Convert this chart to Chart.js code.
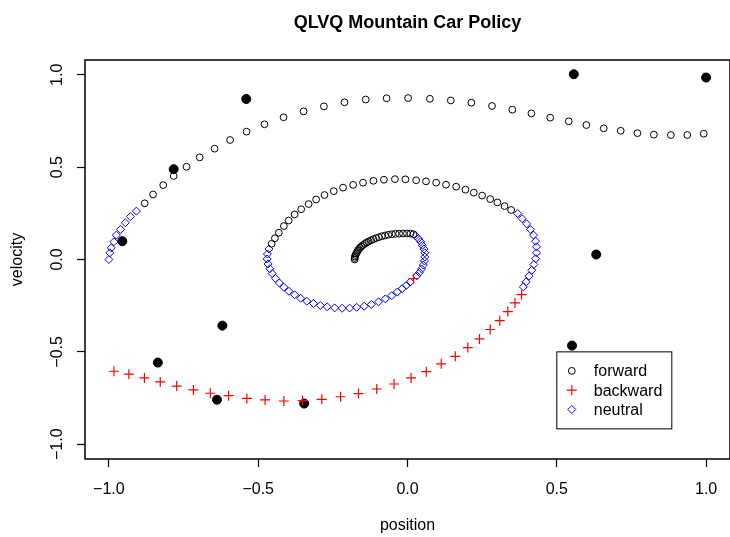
<!DOCTYPE html>
<html>
<head>
<meta charset="utf-8">
<script src="https://cdn.jsdelivr.net/npm/chart.js@4.4.0/dist/chart.umd.min.js"></script>
<style>
  html, body { margin: 0; padding: 0; background: #fff; }
</style>
</head>
<body>
<canvas id="chart" width="730" height="537"></canvas>
<script>
// trajectory points (position, velocity)
const forwardPos = [
  -0.177, -0.177, -0.176, -0.174, -0.172, -0.169, -0.166, -0.163, -0.159, -0.154, -0.149, -0.143, -0.137, -0.130,
  -0.122, -0.114, -0.105, -0.096, -0.086, -0.075, -0.064, -0.052, -0.040, -0.028, -0.015, -0.002, 0.010, 0.020,
  -0.455, -0.444, -0.431, -0.414, -0.398, -0.378, -0.356, -0.331, -0.306, -0.278, -0.247, -0.216, -0.182, -0.149,
  -0.114, -0.079, -0.042, -0.007, 0.029, 0.062, 0.096, 0.129, 0.163, 0.194, 0.222, 0.250, 0.277, 0.301, 0.325, 0.347,
  -0.880, -0.852, -0.818, -0.783, -0.740, -0.696, -0.646, -0.594, -0.539, -0.479, -0.415, -0.348, -0.280, -0.211,
  -0.140, -0.070, 0.002, 0.075, 0.145, 0.214, 0.283, 0.351, 0.415, 0.478, 0.540, 0.599, 0.657, 0.714, 0.770, 0.825,
  0.882, 0.937, 0.992
];
const forwardVel = [
  0.000, 0.008, 0.016, 0.024, 0.032, 0.040, 0.048, 0.056, 0.064, 0.071, 0.078, 0.085, 0.092, 0.098,
  0.104, 0.110, 0.116, 0.121, 0.126, 0.130, 0.134, 0.137, 0.139, 0.140, 0.141, 0.141, 0.140, 0.137,
  0.085, 0.115, 0.145, 0.181, 0.211, 0.244, 0.272, 0.300, 0.325, 0.349, 0.370, 0.389, 0.404, 0.416,
  0.426, 0.432, 0.435, 0.434, 0.429, 0.423, 0.416, 0.405, 0.394, 0.378, 0.362, 0.346, 0.327, 0.309, 0.289, 0.268,
  0.304, 0.352, 0.403, 0.452, 0.502, 0.553, 0.600, 0.647, 0.692, 0.732, 0.770, 0.802, 0.829, 0.851,
  0.866, 0.873, 0.874, 0.870, 0.861, 0.849, 0.831, 0.811, 0.791, 0.768, 0.748, 0.728, 0.710, 0.697, 0.684, 0.676,
  0.674, 0.674, 0.681
];
const backwardPos = [
  0.020,
  0.382, 0.360, 0.336, 0.309, 0.277, 0.241, 0.202, 0.160, 0.113, 0.063, 0.012, -0.045, -0.103, -0.164,
  -0.224, -0.287, -0.351, -0.414, -0.477, -0.538, -0.599, -0.660, -0.717, -0.773, -0.828, -0.881, -0.933, -0.983
];
const backwardVel = [
  -0.104,
  -0.190, -0.235, -0.282, -0.331, -0.379, -0.430, -0.477, -0.524, -0.565, -0.607, -0.641, -0.674, -0.701, -0.726,
  -0.743, -0.757, -0.764, -0.766, -0.760, -0.752, -0.737, -0.724, -0.706, -0.685, -0.663, -0.641, -0.621, -0.605
];
const neutralPos = [
  0.027, 0.036, 0.044, 0.050, 0.055, 0.058, 0.058, 0.057, 0.053, 0.047, 0.040, 0.031,
  0.009, -0.004, -0.018, -0.034, -0.053, -0.074, -0.097, -0.121, -0.145, -0.170, -0.194, -0.219, -0.244, -0.269,
  -0.292, -0.315, -0.337, -0.358, -0.378, -0.397, -0.414, -0.429, -0.442, -0.453, -0.461, -0.467, -0.470, -0.469, -0.464,
  0.369, 0.384, 0.399, 0.412, 0.422, 0.429, 0.432, 0.432, 0.429, 0.423, 0.416, 0.407, 0.397, 0.388,
  -1.000, -0.997, -0.992, -0.983, -0.975, -0.961, -0.945, -0.928, -0.908
];
const neutralVel = [
  0.128, 0.113, 0.096, 0.077, 0.057, 0.036, 0.014, -0.008, -0.030, -0.051, -0.070, -0.088,
  -0.122, -0.140, -0.158, -0.176, -0.196, -0.213, -0.229, -0.243, -0.253, -0.259, -0.263, -0.264, -0.262, -0.256,
  -0.249, -0.238, -0.226, -0.210, -0.191, -0.172, -0.150, -0.127, -0.102, -0.076, -0.050, -0.024, 0.003, 0.030, 0.057,
  0.249, 0.221, 0.193, 0.163, 0.132, 0.099, 0.069, 0.036, 0.004, -0.027, -0.058, -0.090, -0.121, -0.148,
  0.000, 0.036, 0.063, 0.096, 0.132, 0.163, 0.199, 0.232, 0.262
];
// LVQ prototypes (filled dots)
const protoPos = [0.557, 1.000, -0.540, -0.783, -0.955, -0.620, -0.836, -0.638, -0.346, 0.632, 0.551];
const protoVel = [1.003, 0.985, 0.869, 0.489, 0.099, -0.358, -0.558, -0.759, -0.780, 0.027, -0.466];

const tickValues = [-1, -0.5, 0, 0.5, 1];
const tickText = ['\u22121.0', '\u22120.5', '0.0', '0.5', '1.0'];
const legendNames = ['forward', 'backward', 'neutral'];

const FONT = '"Liberation Sans", Arial, Helvetica, sans-serif';

function pts(xs, ys) {
    return xs.map((x, i) => ({ x: x, y: ys[i] }));
}

// R style frame, title, rotated y labels and legend
const rDecor = {
    id: 'rDecor',
    afterDraw(chart) {
        const ctx = chart.ctx;
        const a = chart.chartArea;
        const xs = chart.scales.x, ys = chart.scales.y;
        ctx.save();
        ctx.strokeStyle = '#000';
        ctx.lineWidth = 1.5;
        ctx.strokeRect(a.left, a.top, a.right - a.left, a.bottom - a.top);

        ctx.fillStyle = '#000';
        ctx.font = 'bold 18px ' + FONT;
        ctx.textAlign = 'center';
        ctx.textBaseline = 'alphabetic';
        ctx.fillText('QLVQ Mountain Car Policy', (a.left + a.right) / 2, 28);

        ctx.font = '16px ' + FONT;
        tickValues.forEach((v, i) => {
            ctx.save();
            ctx.translate(62, ys.getPixelForValue(v));
            ctx.rotate(-Math.PI / 2);
            ctx.fillText(tickText[i], 0, 0);
            ctx.restore();
        });

        // legend, top-left corner at (0.5, -0.5)
        const lx = xs.getPixelForValue(0.5), ly = ys.getPixelForValue(-0.5);
        ctx.lineWidth = 1;
        ctx.strokeRect(lx, ly, 115, 77);
        ctx.textAlign = 'left';
        ctx.textBaseline = 'middle';
        legendNames.forEach((name, i) => {
            const ds = chart.data.datasets[i];
            const y = ly + 19 + i * 19.3;
            ctx.strokeStyle = ds.borderColor;
            ctx.fillStyle = 'rgba(0,0,0,0)';
            ctx.lineWidth = ds.borderWidth;
            Chart.helpers.drawPoint(ctx, {
                pointStyle: ds.pointStyle, radius: ds.pointRadius, rotation: 0, borderWidth: ds.borderWidth
            }, lx + 15, y);
            ctx.fillStyle = '#000';
            ctx.fillText(name, lx + 37, y + 1);
        });
        ctx.restore();
    }
};

function axisOpts(horizontal, label) {
    return {
        type: 'linear',
        min: -1.08,
        max: 1.08,
        afterBuildTicks: s => { s.ticks = tickValues.map(v => ({ value: v })); },
        afterFit: s => {
            if (horizontal) s.height = 78; else s.width = 85;
            // no extra room for edge labels, the frame runs to the canvas edge
            s.paddingLeft = 0; s.paddingRight = 0;
            s.paddingTop = 0; s.paddingBottom = 0;
        },
        grid: {
            display: true, drawOnChartArea: false, drawTicks: true, tickLength: 8,
            color: '#000', tickColor: '#000', tickWidth: 1.2
        },
        border: { display: false },
        ticks: {
            display: horizontal,
            color: '#000',
            font: { family: FONT, size: 16 },
            padding: 13,
            maxRotation: 0,
            autoSkip: false,
            callback: (v, i) => tickText[i]
        },
        title: {
            display: true,
            text: label,
            color: '#000',
            font: { family: FONT, size: 16 },
            padding: horizontal ? { top: 0, bottom: 2 } : { top: 8, bottom: 0 }
        }
    };
}

document.addEventListener('DOMContentLoaded', () => {
    const clear = 'rgba(0,0,0,0)';
    new Chart(document.getElementById('chart'), {
        type: 'scatter',
        data: {
            datasets: [
                { label: 'forward', data: pts(forwardPos, forwardVel), pointStyle: 'circle', pointRadius: 3.4,
                  borderColor: '#000', backgroundColor: clear, borderWidth: 1 },
                { label: 'backward', data: pts(backwardPos, backwardVel), pointStyle: 'cross', pointRadius: 5,
                  borderColor: '#ff0000', backgroundColor: clear, borderWidth: 1.2 },
                { label: 'neutral', data: pts(neutralPos, neutralVel), pointStyle: 'rectRot', pointRadius: 4,
                  borderColor: '#0000ff', backgroundColor: clear, borderWidth: 1 },
                { label: 'prototypes', data: pts(protoPos, protoVel), pointStyle: 'circle', pointRadius: 4.5,
                  borderColor: '#000', backgroundColor: '#000', borderWidth: 1 }
            ]
        },
        options: {
            responsive: false,
            devicePixelRatio: 1,
            animation: false,
            events: [],
            layout: { autoPadding: false, padding: { top: 60, left: 0, right: 0, bottom: 0 } },
            plugins: {
                legend: { display: false },
                tooltip: { enabled: false },
                title: { display: false }
            },
            scales: {
                x: axisOpts(true, 'position'),
                y: axisOpts(false, 'velocity')
            }
        },
        plugins: [rDecor]
    });
});
</script>
</body>
</html>
